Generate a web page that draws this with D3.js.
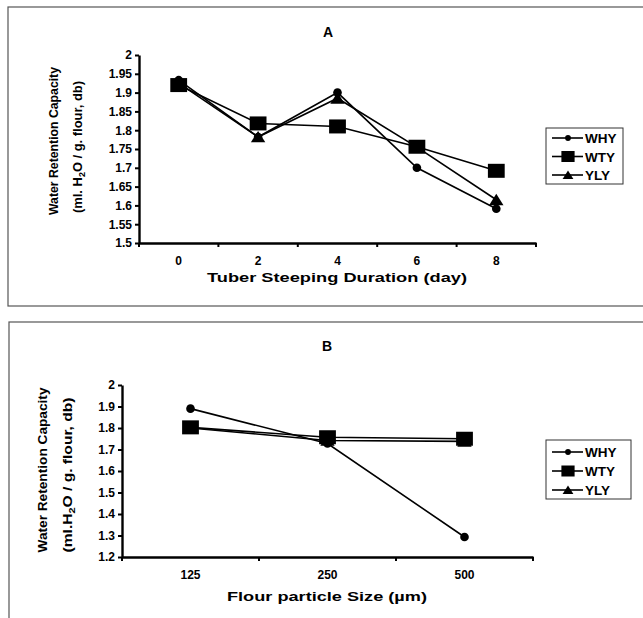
<!DOCTYPE html>
<html><head><meta charset="utf-8">
<script src="https://cdn.jsdelivr.net/npm/d3@7"></script>
<style>body{margin:0;background:#fff}svg{display:block;font-family:"Liberation Sans",Arial,sans-serif;font-weight:bold}</style>
</head><body><svg id="c" width="643" height="618"></svg>
<script>
const seriesNames = ["WHY","WTY","YLY"];
// Panel A
const daysA = ["0","2","4","6","8"];
const whyA = [1.933,1.782,1.900,1.700,1.591];
const wtyA = [1.920,1.818,1.810,1.756,1.692];
const ylyA = [1.925,1.782,1.885,1.755,1.615];
const yTicksA = [1.5,1.55,1.6,1.65,1.7,1.75,1.8,1.85,1.9,1.95,2];
// Panel B
const sizesB = ["125","250","500"];
const whyB = [1.890,1.728,1.293];
const wtyB = [1.803,1.757,1.750];
const ylyB = [1.800,1.742,1.738];
const yTicksB = [1.2,1.3,1.4,1.5,1.6,1.7,1.8,1.9,2];

const svg = d3.select("#c");
const markers = ["circle","square","triangle"];

function drawMarker(g, type, x, y, s) {
  if (type === "circle") g.append("circle").attr("cx",x).attr("cy",y).attr("r",s*0.36).attr("fill","#000");
  else if (type === "square") g.append("rect").attr("x",x-s*0.6).attr("y",y-s*0.5).attr("width",s*1.2).attr("height",s).attr("fill","#000");
  else g.append("path").attr("d",`M${x},${y-s*0.5}L${x+s*0.6},${y+s*0.45}L${x-s*0.6},${y+s*0.45}Z`).attr("fill","#000");
}

function panel(o) {
  const g = svg.append("g");
  g.append("rect").attr("x",o.box[0]).attr("y",o.box[1]).attr("width",o.box[2]).attr("height",o.box[3])
    .attr("fill","none").attr("stroke","#555").attr("stroke-width",1.2);
  const x = d3.scaleBand().domain(o.cats).range(o.xr).padding(0);
  const y = d3.scaleLinear().domain(o.yd).range(o.yr);
  const cx = d => x(d) + x.bandwidth()/2;
  // y axis
  const ya = g.append("g").attr("transform",`translate(${o.xr[0]},0)`)
    .call(d3.axisLeft(y).tickValues(o.yticks).tickSize(4).tickSizeOuter(0).tickFormat(d=>String(+d.toFixed(2))));
  ya.select(".domain").attr("stroke","#000").attr("stroke-width",2.4);
  ya.selectAll(".tick line").attr("stroke","#000").attr("stroke-width",2);
  ya.selectAll("text").attr("font-size",o.tickFs).attr("font-family","Liberation Sans, Arial").attr("font-weight","bold").attr("fill","#000").attr("x",-7);
  // x axis
  const xa = g.append("g").attr("transform",`translate(0,${o.yr[0]})`)
    .call(d3.axisBottom(x).tickSize(0).tickSizeOuter(0));
  xa.select(".domain").attr("stroke","#000").attr("stroke-width",2.4);
  xa.selectAll("text").attr("font-size",o.tickFs).attr("font-family","Liberation Sans, Arial").attr("font-weight","bold").attr("fill","#000").attr("dy","1.6em");
  // separator ticks between categories
  const seps = o.cats.map(c => x(c)).concat([o.xr[1]]);
  g.selectAll(".sep").data(seps).enter().append("line")
    .attr("x1",d=>d).attr("x2",d=>d).attr("y1",o.yr[0]).attr("y2",o.yr[0]+4)
    .attr("stroke","#000").attr("stroke-width",2);
  // series
  const line = d3.line().x((d,i)=>cx(o.cats[i])).y(d=>y(d));
  o.series.forEach((s,k) => {
    g.append("path").datum(s).attr("d",line).attr("fill","none").attr("stroke","#000").attr("stroke-width",1.6);
  });
  o.series.slice().reverse().forEach((s,kk) => {
    const k = o.series.length-1-kk;
    s.forEach((v,i) => drawMarker(g, markers[k], cx(o.cats[i]), y(v), o.msize[k]));
  });
  // title
  g.append("text").attr("x",o.title[1]).attr("y",o.title[2]).attr("text-anchor","middle").attr("font-size",14).text(o.title[0]);
  // x title
  g.append("text").attr("x",o.xt[1]).attr("y",o.xt[2]).attr("text-anchor","middle").attr("font-size",13.5)
    .attr("textLength",o.xt[3]).attr("lengthAdjust","spacingAndGlyphs").text(o.xt[0]);
  // y title
  g.append("text").attr("transform",`translate(${o.yt[0]},${o.yt[2]}) rotate(-90)`).attr("text-anchor","middle")
    .attr("font-size",o.ytFs).attr("textLength",o.ytLen[0]).attr("lengthAdjust","spacingAndGlyphs").text("Water Retention Capacity");
  const t2 = g.append("text").attr("transform",`translate(${o.yt[1]},${o.yt[3]}) rotate(-90)`).attr("text-anchor","middle")
    .attr("font-size",o.ytFs).attr("textLength",o.ytLen[1]).attr("lengthAdjust","spacingAndGlyphs");
  t2.append("tspan").text(o.ytLine2[0]);
  t2.append("tspan").attr("font-size",o.ytFs*0.7).attr("dy",3).text("2");
  t2.append("tspan").attr("dy",-3).text(o.ytLine2[1]);
  // legend
  const L = o.legend;
  g.append("rect").attr("x",L.x).attr("y",L.y).attr("width",L.w).attr("height",L.h).attr("fill","#fff").attr("stroke","#333").attr("stroke-width",1);
  seriesNames.forEach((n,k) => {
    const yy = L.y0 + k*L.dy;
    g.append("line").attr("x1",L.x+6).attr("x2",L.x+37).attr("y1",yy).attr("y2",yy).attr("stroke","#000").attr("stroke-width",1.6);
    drawMarker(g, markers[k], L.x+22, yy, [8,11,9][k]);
    g.append("text").attr("x",L.x+39).attr("y",yy+5).attr("font-size",13.5).text(n);
  });
}

panel({
  box:[8,7,640,299], cats:daysA, xr:[139,536], yd:[1.5,2], yr:[243,55], yticks:yTicksA, tickFs:12,
  series:[whyA,wtyA,ylyA], msize:[12,14,12],
  title:["A",328,37], xt:["Tuber Steeping Duration (day)",337,282,260],
  yt:[58,82,141,147], ytFs:12, ytLen:[148,132], ytLine2:["(ml. H","O / g. flour, db)"],
  legend:{x:546,y:128,w:77,h:56,y0:138,dy:18.5}
});
panel({
  box:[9,322,640,310], cats:sizesB, xr:[122,533], yd:[1.2,2], yr:[557,385], yticks:yTicksB, tickFs:12,
  series:[whyB,wtyB,ylyB], msize:[12,14,12],
  title:["B",327,351], xt:["Flour particle Size (\u00b5m)",327,601,200],
  yt:[47,72,470,475], ytFs:12.5, ytLen:[165,155], ytLine2:["(ml.H","O / g. flour, db)"],
  legend:{x:546,y:440,w:85,h:59,y0:452,dy:19}
});
</script></body></html>
